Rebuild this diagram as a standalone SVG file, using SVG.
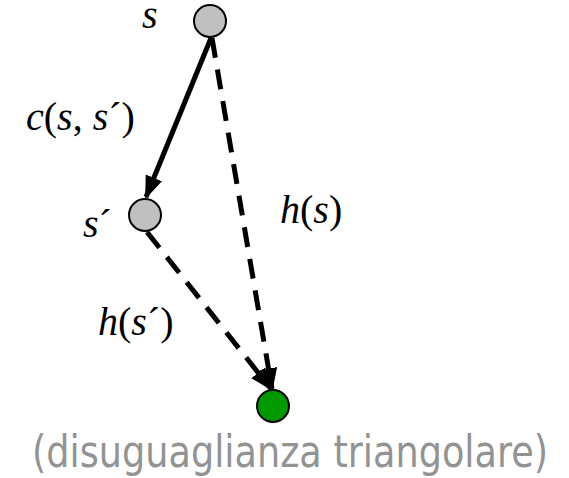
<svg xmlns="http://www.w3.org/2000/svg" width="569" height="478" viewBox="0 0 569 478">
<style>
.lbl{font-family:"Liberation Serif","Times New Roman",serif;font-size:40px;fill:#000}
.it{font-style:italic}
.node{stroke:#000;stroke-width:2}
.edge{stroke:#000;stroke-width:5;fill:none}
.dash{stroke-dasharray:20,12}
.cap{font-family:"DejaVu Sans",Verdana,sans-serif;font-size:44px;fill:#939393}
</style>
<defs>
<marker id="ah" viewBox="0 0 10 10" refX="9" refY="5" markerWidth="4.6" markerHeight="4.6" orient="auto" markerUnits="strokeWidth">
<path d="M0,1.2 L10,5 L0,8.8 z" fill="#000"/>
</marker>
</defs>
<g id="connectors">
<line class="edge" x1="211" y1="38" x2="146" y2="197" marker-end="url(#ah)"/>
<line class="edge dash" x1="212" y1="38" x2="272" y2="389" marker-end="url(#ah)"/>
<line class="edge dash" x1="147" y1="232" x2="271" y2="389" marker-end="url(#ah)"/>
</g>
<g id="node-s">
<circle class="node" cx="210" cy="21" r="16" fill="#c0c0c0"/>
<text class="lbl it" x="142" y="28">s</text>
</g>
<g id="node-s1">
<circle class="node" cx="145" cy="215" r="16" fill="#c0c0c0"/>
<text class="lbl" x="83" y="237"><tspan class="it">s</tspan>´</text>
</g>
<g id="node-goal">
<circle class="node" cx="273" cy="406" r="16" fill="#009900"/>
</g>
<g id="labels">
<text class="lbl" x="26" y="130"><tspan class="it">c</tspan>(<tspan class="it">s</tspan>, <tspan class="it">s</tspan>´)</text>
<text class="lbl" x="280" y="223"><tspan class="it">h</tspan>(<tspan class="it">s</tspan>)</text>
<text class="lbl" x="98" y="335"><tspan class="it">h</tspan>(<tspan class="it">s</tspan>´)</text>
<text class="cap" x="32" y="467" textLength="516" lengthAdjust="spacingAndGlyphs">(disuguaglianza triangolare)</text>
</g>
</svg>
